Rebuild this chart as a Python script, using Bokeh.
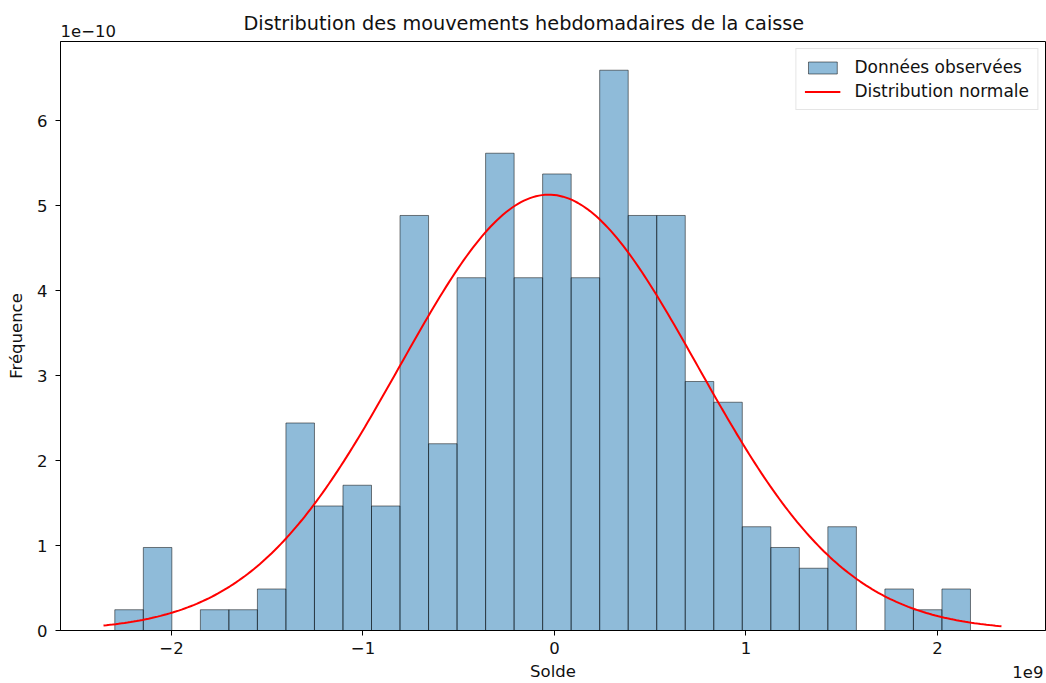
from bokeh.plotting import figure
from bokeh.models import (ColumnDataSource, FixedTicker, CustomJSTickFormatter, Title,
                          Range1d, Legend, LegendItem)
from bokeh.embed import file_html
from bokeh.resources import INLINE
import numpy as np

# ---- Data ----
counts = [1, 4, 0, 1, 1, 2, 10, 6, 7, 6, 20, 9, 17, 23, 17, 22, 17, 27, 20, 20,
          12, 11, 5, 4, 3, 5, 0, 2, 1, 2]
bin_start = -2.296e9
bin_width = 0.14894e9
n_obs = sum(counts)
mu = -0.03e9
sigma = 7.78e8
curve_min = -2.355e9
curve_max = 2.334e9
x_ticks = [-2e9, -1e9, 0, 1e9, 2e9]
y_ticks = [i * 1e-10 for i in range(7)]

lefts = [bin_start + i * bin_width for i in range(len(counts))]
rights = [l + bin_width for l in lefts]
dens = [c / (n_obs * bin_width) for c in counts]
hist_src = ColumnDataSource(dict(left=lefts, right=rights, top=dens, bottom=[0] * len(counts)))

xs = np.linspace(curve_min, curve_max, 300)
ys = np.exp(-0.5 * ((xs - mu) / sigma) ** 2) / (sigma * np.sqrt(2 * np.pi))
curve_src = ColumnDataSource(dict(x=xs, y=ys))

FONT = "DejaVu Sans"
FS = "16.5px"
TXT = "#111111"

p = figure(width=1046, height=683, output_backend="svg", toolbar_location=None,
           x_range=Range1d(-2.5796e9, 2.564e9), y_range=Range1d(0, 6.93e-10),
           min_border_left=60, min_border_right=1, min_border_top=41, min_border_bottom=53)

# texts above the frame: first added is nearest to the frame
t_exp_y = Title(text="1e\u221210", align="left", text_font=FONT, text_font_size=FS,
                text_font_style="normal", text_color=TXT, standoff=9)
p.add_layout(t_exp_y, "above")
t_main = Title(text="Distribution des mouvements hebdomadaires de la caisse", align="left",
               offset=183, text_font=FONT, text_font_size="19.3px", text_font_style="normal",
               text_color=TXT, standoff=-32)
p.add_layout(t_main, "above")

q = p.quad(left="left", right="right", top="top", bottom="bottom", source=hist_src,
           fill_color="#1f77b4", fill_alpha=0.5, line_color="black", line_alpha=0.5, line_width=1)
ln = p.line("x", "y", source=curve_src, line_color="red", line_width=2)

legend = Legend(items=[LegendItem(label="Données observées", renderers=[q]),
                       LegendItem(label="Distribution normale", renderers=[ln])],
                location="top_right")
legend.label_text_font = FONT
legend.label_text_font_size = "17px"
legend.label_text_color = TXT
legend.glyph_width = 36
legend.glyph_height = 15
legend.label_height = 19
legend.label_standoff = 14
legend.spacing = 4
legend.padding = 8
legend.margin = 7
legend.border_line_color = "#cccccc"
legend.border_line_width = 1
legend.background_fill_alpha = 0.8
p.add_layout(legend)

p.xgrid.visible = False
p.ygrid.visible = False
p.outline_line_color = "black"
p.outline_line_width = 1
p.background_fill_color = "white"
p.border_fill_color = "white"

for ax in (p.xaxis[0], p.yaxis[0]):
    ax.axis_line_color = "black"
    ax.major_tick_line_color = "black"
    ax.major_tick_out = 5
    ax.major_tick_in = 0
    ax.minor_tick_line_color = None
    ax.major_label_text_font = FONT
    ax.major_label_text_font_size = FS
    ax.major_label_text_color = TXT
    ax.axis_label_text_font = FONT
    ax.axis_label_text_font_size = FS
    ax.axis_label_text_font_style = "normal"
    ax.axis_label_text_color = TXT

p.xaxis[0].ticker = FixedTicker(ticks=x_ticks)
p.yaxis[0].ticker = FixedTicker(ticks=y_ticks)
p.xaxis[0].formatter = CustomJSTickFormatter(code="""
const v = Math.round(tick / 1e9);
return (v < 0 ? '\\u2212' : '') + Math.abs(v).toString();
""")
p.yaxis[0].formatter = CustomJSTickFormatter(code="""
const v = Math.round(tick / 1e-10);
return (v < 0 ? '\\u2212' : '') + Math.abs(v).toString();
""")
p.xaxis[0].axis_label = "Solde"
p.yaxis[0].axis_label = "Fréquence"
p.xaxis[0].major_label_standoff = 6
p.yaxis[0].major_label_standoff = 8
p.xaxis[0].axis_label_standoff = 5
p.yaxis[0].axis_label_standoff = 8

t_exp_x = Title(text="1e9", align="right", offset=2, vertical_align="top",
                text_font=FONT, text_font_size=FS,
                text_font_style="normal", text_color=TXT, standoff=-36)
p.add_layout(t_exp_x, "below")

open("out.html", "w").write(file_html(p, INLINE))
